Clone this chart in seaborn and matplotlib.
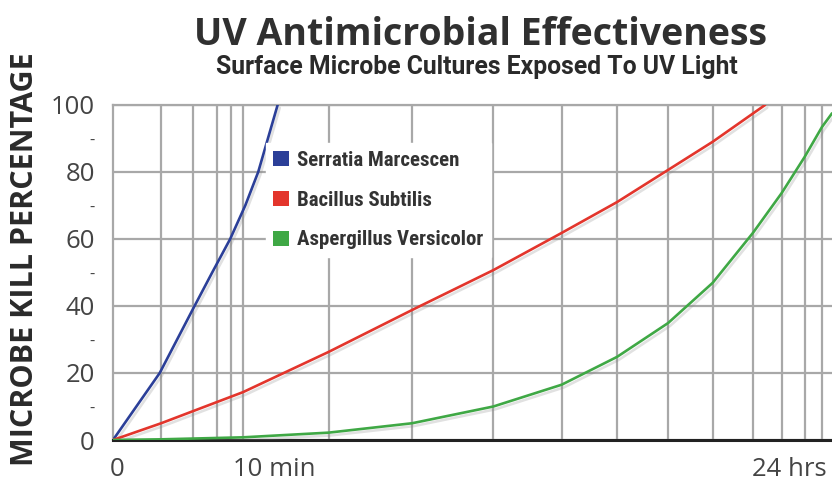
import matplotlib
matplotlib.use("Agg")
import matplotlib.pyplot as plt
import matplotlib.patheffects as pe
from matplotlib.patches import Patch
import seaborn as sns
import pandas as pd

# Exposure position along the (non-linear) time axis, 0 = start, 100 = right edge
serratia_x = [0, 6.5, 11.1, 13.8, 16.3, 18.4, 20.2, 22.9]
serratia_y = [0, 20, 39, 50, 60, 70, 80, 100]

bacillus_x = [0, 6.7, 18.1, 30.0, 41.6, 52.9, 62.4, 70.1, 77.2, 83.4, 90.7]
bacillus_y = [0, 5.0, 14.3, 26.3, 38.8, 50.7, 61.8, 71.0, 80.6, 89.0, 100]

asper_x = [0, 6.7, 18.1, 30.0, 41.6, 52.9, 62.4, 70.1, 77.2, 83.4, 89.0, 93.0, 96.2, 98.6, 100]
asper_y = [0, 0.2, 0.8, 2.2, 5.0, 10.0, 16.5, 24.8, 34.9, 46.9, 61.8, 73.7, 84.5, 93.4, 97.5]

series_names = ["Serratia Marcescen", "Bacillus Subtilis", "Aspergillus Versicolor"]
series_colors = ["#2b3f98", "#e3352c", "#3fa845"]

x_grid = [6.7, 11.1, 14.5, 16.4, 18.1, 30.0, 41.6, 52.9, 62.4, 70.1, 77.2, 83.4, 89.0, 93.0, 96.2, 98.6]
x_tick_pos = [0.6, 22.4, 94.0]
x_tick_labels = ["0", "10 min", "24 hrs"]
y_ticks = [0, 20, 40, 60, 80, 100]
y_minor = [10, 30, 50, 70, 90]

narrow = ["Roboto Condensed", "Liberation Sans Narrow", "Roboto", "DejaVu Sans"]

sns.set_theme(style="white")
plt.rcParams["font.family"] = ["Open Sans", "DejaVu Sans"]

df = pd.concat([
    pd.DataFrame({"x": serratia_x, "y": serratia_y, "name": series_names[0]}),
    pd.DataFrame({"x": bacillus_x, "y": bacillus_y, "name": series_names[1]}),
    pd.DataFrame({"x": asper_x, "y": asper_y, "name": series_names[2]}),
])

fig = plt.figure(figsize=(8.32, 4.87), dpi=100)
ax = fig.add_axes([0.1358, 0.0965, 0.8642, 0.688])

for name, color in zip(series_names, series_colors):
    d = df[df["name"] == name]
    sns.lineplot(data=d, x="x", y="y", color=color, linewidth=1.9, ax=ax,
                 sort=False, estimator=None, zorder=3,
                 path_effects=[pe.SimpleLineShadow(offset=(1.5, -2), shadow_color="#888888", alpha=0.25),
                               pe.Normal()])

ax.set_xlim(0, 100)
ax.set_ylim(0, 100)

ax.set_xticks(x_tick_pos)
ax.set_xticklabels(x_tick_labels)
ax.set_xticks(x_grid, minor=True)
ax.set_yticks(y_ticks)
ax.set_yticks(y_minor, minor=True)
ax.set_yticklabels(["-"] * len(y_minor), minor=True)

ax.tick_params(axis="both", which="both", length=0, labelsize=18.5, labelcolor="#444444")
ax.tick_params(axis="y", which="both", pad=13)
ax.tick_params(axis="x", which="major", pad=12)
ax.tick_params(axis="y", which="minor", labelsize=12)

ax.grid(False)
ax.grid(True, axis="x", which="minor", color="#a8a8a8", linewidth=1.6)
ax.grid(True, axis="y", which="major", color="#a8a8a8", linewidth=1.6)

ax.spines["right"].set_visible(False)
ax.spines["top"].set_color("#a8a8a8")
ax.spines["top"].set_linewidth(1.6)
ax.spines["left"].set_color("#a8a8a8")
ax.spines["left"].set_linewidth(1.6)
ax.spines["bottom"].set_color("#222222")
ax.spines["bottom"].set_linewidth(2.2)
ax.set_xlabel("")
ax.set_ylabel("")

handles = [Patch(facecolor=c, edgecolor="none") for c in series_colors]
leg = ax.legend(handles, series_names, loc="upper left", bbox_to_anchor=(0.213, 0.885),
                frameon=True, fancybox=False, framealpha=1, edgecolor="white",
                handlelength=0.75, handleheight=0.75, handletextpad=0.4,
                labelspacing=1.0, borderpad=0.35, borderaxespad=0,
                prop={"family": narrow, "size": 15, "weight": "bold"})
for t in leg.get_texts():
    t.set_color("#333333")
leg.set_zorder(5)

fig.text(0.577, 0.929, "UV Antimicrobial Effectiveness", ha="center", va="center",
         fontsize=27, fontweight="bold", color="#303030")
fig.text(0.573, 0.862, "Surface Microbe Cultures Exposed To UV Light", ha="center", va="center",
         fontsize=17.8, fontweight="bold", color="#2a2a2a", family=["Roboto", "DejaVu Sans"])
fig.text(0.03, 0.468, "MICROBE KILL PERCENTAGE", rotation=90, ha="center", va="center",
         fontsize=22, fontweight="bold", color="#2a2a2a")

plt.savefig("out.png", dpi=100)
plt.close()
